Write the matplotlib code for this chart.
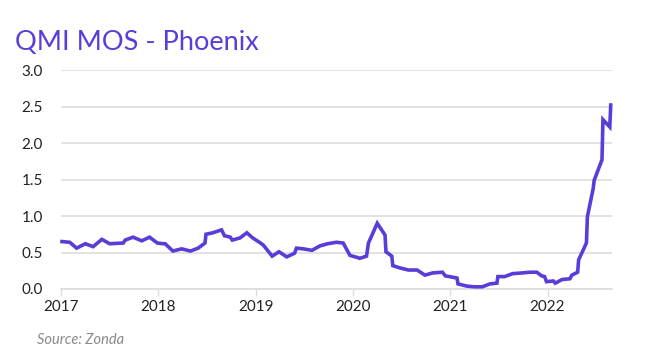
import matplotlib
matplotlib.use("Agg")
import matplotlib.pyplot as plt

# 数据（按图读取，时间为小数年份）
years = [2017.01, 2017.09, 2017.16, 2017.25, 2017.33, 2017.42, 2017.50, 2017.64, 2017.66,
         2017.74, 2017.83, 2017.91, 2017.99, 2018.05, 2018.07, 2018.15, 2018.24, 2018.33,
         2018.41, 2018.48, 2018.49, 2018.56, 2018.65, 2018.68, 2018.74, 2018.76, 2018.84,
         2018.91, 2018.97, 2019.05, 2019.08, 2019.17, 2019.24, 2019.32, 2019.40, 2019.42,
         2019.49, 2019.58, 2019.66, 2019.74, 2019.83, 2019.90, 2019.97, 2020.05, 2020.07,
         2020.14, 2020.16, 2020.25, 2020.33, 2020.34, 2020.40, 2020.41, 2020.48, 2020.57,
         2020.66, 2020.74, 2020.82, 2020.92, 2020.95, 2021.03, 2021.07, 2021.08, 2021.17,
         2021.25, 2021.33, 2021.41, 2021.48, 2021.49, 2021.56, 2021.64, 2021.74, 2021.82,
         2021.89, 2021.94, 2021.97, 2021.99, 2022.06, 2022.08, 2022.15, 2022.23, 2022.25,
         2022.31, 2022.32, 2022.40, 2022.41, 2022.47, 2022.48, 2022.56, 2022.57, 2022.64,
         2022.65]
mos = [0.65, 0.64, 0.56, 0.62, 0.58, 0.68, 0.62, 0.63, 0.67,
       0.71, 0.66, 0.71, 0.63, 0.62, 0.62, 0.52, 0.55, 0.52,
       0.56, 0.63, 0.75, 0.77, 0.81, 0.73, 0.71, 0.67, 0.70,
       0.77, 0.70, 0.63, 0.60, 0.45, 0.51, 0.44, 0.49, 0.56,
       0.55, 0.53, 0.59, 0.62, 0.64, 0.63, 0.46, 0.43, 0.42,
       0.45, 0.63, 0.90, 0.74, 0.51, 0.45, 0.32, 0.29, 0.26,
       0.26, 0.19, 0.22, 0.23, 0.18, 0.16, 0.15, 0.07, 0.04,
       0.03, 0.03, 0.07, 0.08, 0.17, 0.17, 0.21, 0.22, 0.23,
       0.23, 0.18, 0.17, 0.10, 0.11, 0.08, 0.13, 0.14, 0.19,
       0.23, 0.40, 0.63, 0.99, 1.38, 1.49, 1.77, 2.32, 2.22,
       2.52]
x_ticks = [2017, 2018, 2019, 2020, 2021, 2022]
y_ticks = [0.0, 0.5, 1.0, 1.5, 2.0, 2.5, 3.0]

purple = "#5A3DD8"
grid_c = "#DDDDDD"

plt.rcParams["font.family"] = ["Lato", "DejaVu Sans"]

fig = plt.figure(figsize=(6.53, 3.6), dpi=100)
ax = fig.add_axes([61 / 653, 1 - 289 / 360, (612 - 61) / 653, (289 - 70) / 360])

ax.plot(years, mos, color=purple, lw=2.6, solid_joinstyle="miter", clip_on=False, zorder=3)

ax.set_xlim(2017, 2017 + (612 - 61) / 97.3)
ax.set_ylim(0, 3.0)
ax.set_yticks(y_ticks)
ax.set_yticklabels([f"{v:.1f}" for v in y_ticks])
ax.set_xticks(x_ticks)
ax.set_xticklabels([str(v) for v in x_ticks])

ax.grid(axis="y", color=grid_c, lw=1.2)
ax.set_axisbelow(True)
for s in ["top", "right", "left"]:
    ax.spines[s].set_visible(False)
ax.spines["bottom"].set_color(grid_c)
ax.spines["bottom"].set_linewidth(1.2)
ax.tick_params(axis="y", length=0, pad=13, labelsize=11, labelcolor="#222222")
ax.tick_params(axis="x", length=5, width=1, color=grid_c, pad=3, labelsize=11, labelcolor="#222222")

fig.text(15 / 653, 1 - 42 / 360, "QMI MOS - Phoenix", color=purple, fontsize=19.5, va="center", ha="left")
fig.text(37 / 653, 1 - 340 / 360, "Source: Zonda", color="#8A8A8A", fontsize=10.5, style="italic",
         va="center", ha="left")

fig.savefig("out.png", dpi=100)
